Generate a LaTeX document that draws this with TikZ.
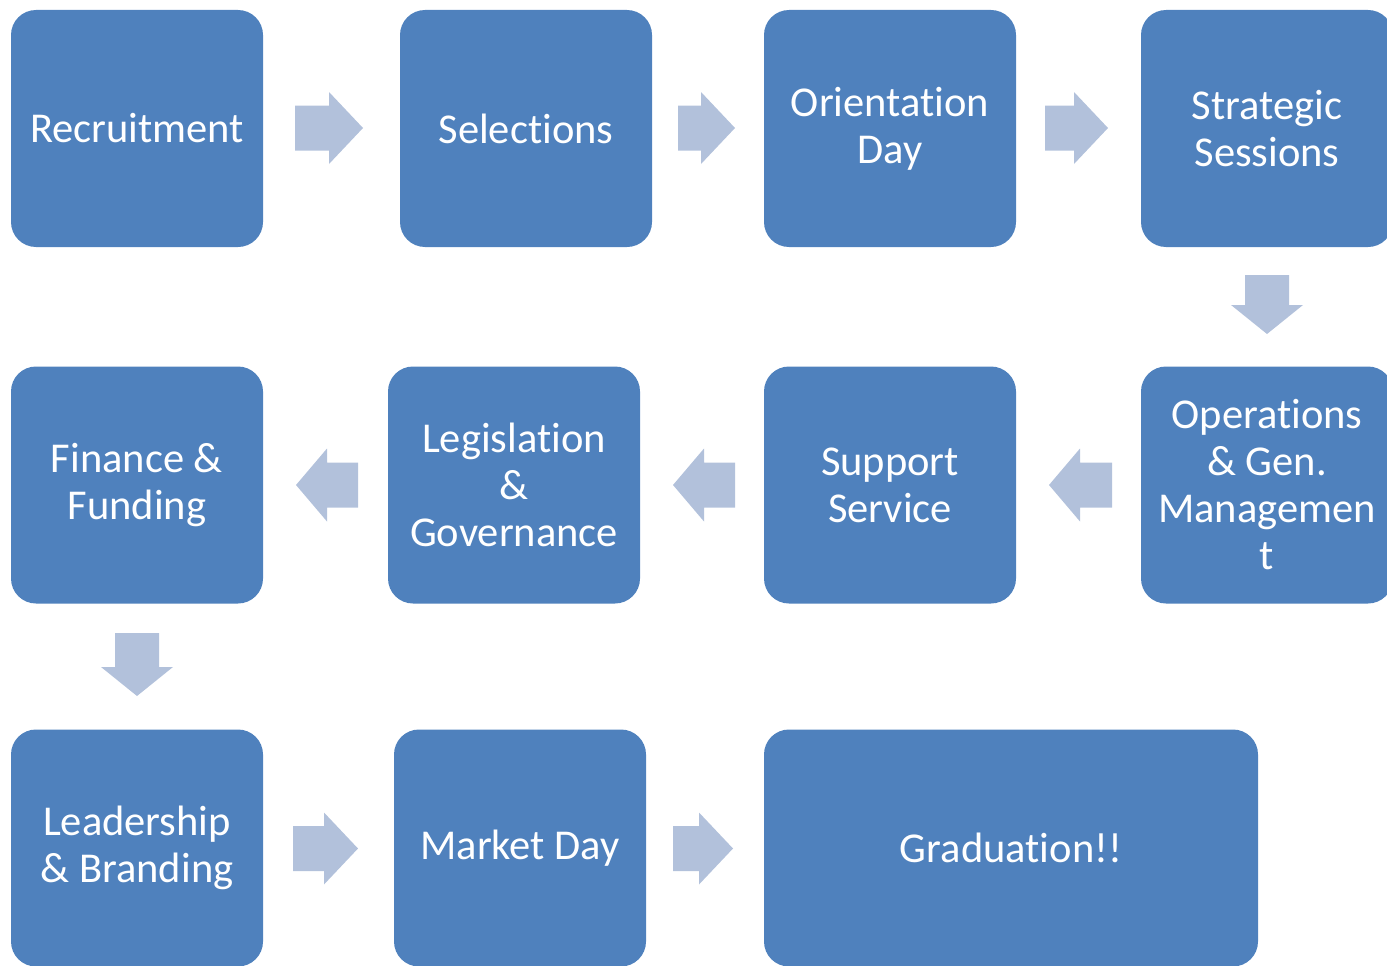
\documentclass[tikz,border=0pt]{standalone}
\usepackage{fontspec}
\setmainfont[RawFeature={-liga;-clig;-calt;-dlig}]{Carlito}
\definecolor{boxblue}{HTML}{4F81BD}
\definecolor{arrblue}{HTML}{B2C1DB}
\newcommand\myrarr[3]{\fill[blockarrow] (#1,#3-22.5) -- (#2-34,#3-22.5) -- (#2-34,#3-36) -- (#2,#3) -- (#2-34,#3+36) -- (#2-34,#3+22.5) -- (#1,#3+22.5) -- cycle;}
\newcommand\mylarr[3]{\fill[blockarrow] (#2,#3-22.5) -- (#1+31,#3-22.5) -- (#1+31,#3-36.5) -- (#1,#3) -- (#1+31,#3+36.5) -- (#1+31,#3+22.5) -- (#2,#3+22.5) -- cycle;}
\newcommand\mydarr[3]{\fill[blockarrow] (#1-22,#2) -- (#1+22,#2) -- (#1+22,#3-29) -- (#1+36,#3-29) -- (#1,#3) -- (#1-36,#3-29) -- (#1-22,#3-29) -- cycle;}
\begin{document}
\begin{tikzpicture}[x=1pt,y=-1pt,
  stage/.style={fill=boxblue, rounded corners=25pt, minimum width=252pt, minimum height=237pt,
    text=white, align=center, font=\fontsize{42.5}{47}\selectfont, inner sep=0pt},
  blockarrow/.style={fill=arrblue}]
\useasboundingbox (0,0) rectangle (1387,966);
% row 1
\node[stage] (rec) at (137,128.5) {Recruitment};
\node[stage] (sel) at (526,128.5) {Selections};
\node[stage] (ori) at (890,128.5) {Orientation\\Day};
\node[stage] (str) at (1267,128.5) {Strategic\\Sessions};
% row 2
\node[stage] (ops) at (1267,485) {Operations\\\& Gen.\\Managemen\\t};
\node[stage] (sup) at (890,485) {Support\\Service};
\node[stage] (leg) at (514,485) {Legislation\\\&\\Governance};
\node[stage] (fin) at (137,485) {Finance \&\\Funding};
% row 3
\node[stage] (lead) at (137,848) {Leadership\\\& Branding};
\node[stage] (mkt) at (520,848) {Market Day};
\node[stage, minimum width=494pt] (grad) at (1011,848) {Graduation!!};
% arrows
\myrarr{295}{363}{128}
\myrarr{678}{735}{128}
\myrarr{1045}{1108}{128}
\mydarr{1267}{275}{334}
\mylarr{1049}{1112}{485}
\mylarr{673}{735}{485}
\mylarr{296}{358}{485}
\mydarr{137}{633}{696}
\myrarr{293}{358}{848.5}
\myrarr{673}{733}{848.5}
\end{tikzpicture}
\end{document}
